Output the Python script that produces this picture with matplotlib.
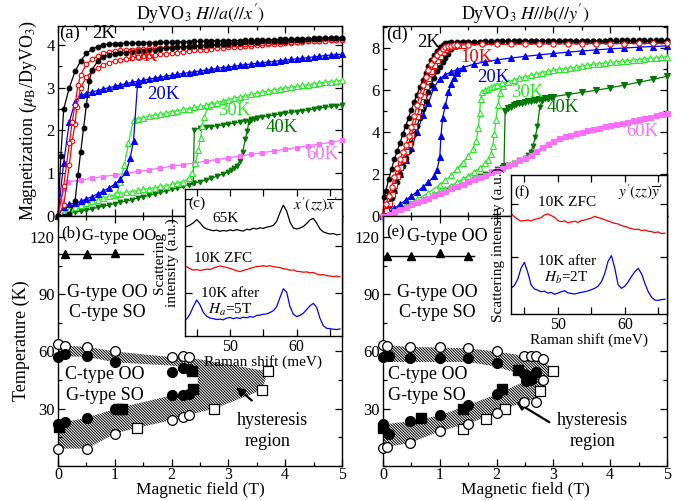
import numpy as np
import matplotlib.pyplot as plt
from matplotlib.ticker import MultipleLocator, NullFormatter
from matplotlib.patches import Polygon

plt.rcParams['font.family'] = ['Liberation Serif', 'DejaVu Serif']
plt.rcParams['mathtext.fontset'] = 'stix'
plt.rcParams['hatch.linewidth'] = 0.7
plt.rcParams['xtick.direction'] = 'in'
plt.rcParams['ytick.direction'] = 'in'
plt.rcParams['axes.linewidth'] = 1.0

# colours of the temperature series
c_2K = 'black'
c_10K = '#ff0000'
c_20K = '#0000ff'
c_30K = '#22ee22'
c_40K = '#007800'
c_60K = '#ff6eff'

# field grids (T) used by the magnetometer sweeps
grid_a = [round(1.0 + 0.1 * i, 1) for i in range(41)]       # 1.0 ... 5.0
grid_a14 = [round(1.4 + 0.1 * i, 1) for i in range(37)]     # 1.4 ... 5.0

# ---------------- panel (a): H // a ----------------
a2_up_H = [0, 0.1, 0.2, 0.3, 0.35, 0.4, 0.45, 0.5, 0.55, 0.6, 0.7, 0.8, 0.9] + grid_a
a2_up_M = [0, 0.0, 0.05, 0.35, 0.95, 1.5, 2.05, 2.6, 3.15, 3.42, 3.62, 3.72, 3.76,
           3.78, 3.80, 3.82, 3.83, 3.85, 3.86, 3.88, 3.89, 3.91, 3.92,
           3.93, 3.94, 3.95, 3.96, 3.97, 3.98, 3.99, 4.00, 4.01, 4.02,
           4.03, 4.04, 4.05, 4.055, 4.06, 4.07, 4.08, 4.085, 4.09, 4.10,
           4.10, 4.11, 4.12, 4.12, 4.13, 4.14, 4.14, 4.15, 4.15, 4.16, 4.17]
a2_dn_H = [0, 0.05, 0.1, 0.2, 0.3, 0.4, 0.5, 0.6, 0.7, 0.8, 0.9] + grid_a
a2_dn_M = [0, 1.4, 2.5, 3.0, 3.38, 3.62, 3.8, 3.9, 3.96, 4.0, 4.02,
           4.03, 4.03, 4.04, 4.04, 4.04, 4.05, 4.05, 4.05, 4.06, 4.06,
           4.06, 4.07, 4.07, 4.07, 4.08, 4.08, 4.08, 4.09, 4.09, 4.09,
           4.10, 4.10, 4.10, 4.11, 4.11, 4.11, 4.12, 4.12, 4.12, 4.13,
           4.13, 4.13, 4.14, 4.14, 4.14, 4.15, 4.15, 4.16, 4.16, 4.16, 4.17]

a10_dn_H = [0, 0.1, 0.2, 0.25, 0.3, 0.35, 0.4, 0.5, 0.6, 0.7, 0.8, 0.9] + grid_a
a10_dn_M = [0, 0.7, 1.7, 2.2, 2.6, 3.05, 3.3, 3.55, 3.66, 3.74, 3.8, 3.83,
            3.86, 3.87, 3.88, 3.89, 3.90, 3.91, 3.92, 3.92, 3.93, 3.94,
            3.95, 3.955, 3.96, 3.965, 3.97, 3.975, 3.98, 3.985, 3.99, 4.0,
            4.0, 4.01, 4.015, 4.02, 4.03, 4.035, 4.04, 4.05, 4.055, 4.06,
            4.065, 4.07, 4.075, 4.08, 4.085, 4.09, 4.095, 4.10, 4.11, 4.115, 4.12]
a10_up_H = [0, 0.1, 0.2, 0.25, 0.3, 0.33, 0.4, 0.5, 0.6, 0.7, 0.8, 0.9] + grid_a
a10_up_M = [0, 0.25, 1.2, 1.75, 2.15, 2.55, 3.0, 3.25, 3.38, 3.46, 3.53, 3.58,
            3.62, 3.64, 3.67, 3.69, 3.71, 3.73, 3.75, 3.76, 3.78, 3.79,
            3.81, 3.82, 3.84, 3.85, 3.87, 3.88, 3.89, 3.90, 3.92, 3.93,
            3.94, 3.95, 3.96, 3.97, 3.98, 3.99, 4.00, 4.01, 4.02, 4.03,
            4.04, 4.05, 4.06, 4.07, 4.08, 4.08, 4.09, 4.10, 4.11, 4.11, 4.12]

a20_dn_H = [0, 0.1, 0.2, 0.3, 0.4, 0.5, 0.6, 0.7, 0.8, 0.9] + grid_a
a20_dn_M = [0, 1.25, 2.2, 2.67, 2.82, 2.86, 2.9, 2.93, 2.97, 3.0,
            3.03, 3.06, 3.1, 3.12, 3.15, 3.17, 3.2, 3.22, 3.24, 3.27,
            3.29, 3.31, 3.33, 3.35, 3.37, 3.39, 3.41, 3.43, 3.45, 3.47,
            3.48, 3.50, 3.52, 3.54, 3.55, 3.57, 3.58, 3.60, 3.61, 3.63,
            3.64, 3.66, 3.67, 3.69, 3.70, 3.72, 3.73, 3.75, 3.76, 3.77, 3.78]
a20_up_H = [0, 0.1, 0.2, 0.3, 0.4, 0.5, 0.6, 0.7, 0.8, 0.9, 1.0, 1.1, 1.2, 1.27, 1.33, 1.4]
a20_up_M = [0, 0.22, 0.27, 0.3, 0.34, 0.4, 0.45, 0.52, 0.58, 0.66, 0.74, 0.86, 1.02, 1.35, 1.76, 3.08]

a30_dn_H = [1.04, 1.1, 1.17, 1.24, 1.33] + grid_a14
a30_dn_M = [0.53, 0.8, 1.2, 1.7, 2.25,
            2.27, 2.30, 2.33, 2.36, 2.38, 2.41, 2.44, 2.46, 2.49, 2.51,
            2.54, 2.56, 2.59, 2.62, 2.65, 2.69, 2.72, 2.75, 2.78, 2.81,
            2.84, 2.87, 2.90, 2.92, 2.95, 2.97, 2.99, 3.01, 3.03, 3.05,
            3.07, 3.09, 3.11, 3.13, 3.14, 3.16, 3.17]
a30_up_H = [0, 0.1, 0.2, 0.3, 0.4, 0.5, 0.6, 0.7, 0.8, 0.9, 1.0, 1.1, 1.2, 1.3, 1.4, 1.5,
            1.6, 1.7, 1.8, 1.9, 2.0, 2.1, 2.2, 2.3, 2.36, 2.42, 2.47, 2.51, 2.54, 2.57, 2.65, 2.71]
a30_up_M = [0, 0.08, 0.14, 0.2, 0.25, 0.3, 0.34, 0.38, 0.42, 0.46, 0.49, 0.52, 0.55, 0.57, 0.6, 0.62,
            0.64, 0.66, 0.69, 0.71, 0.74, 0.77, 0.8, 0.88, 1.0, 1.23, 1.55, 1.82, 2.1, 2.32, 2.56, 2.62]

a40_up_H = [round(0.1 * i, 1) for i in range(31)] + [3.05, 3.1, 3.15, 3.2, 3.25, 3.3, 3.33, 3.36, 3.4, 3.45, 3.5]
a40_up_M = [0, 0.03, 0.06, 0.09, 0.11, 0.14, 0.17, 0.2, 0.23, 0.26,
            0.29, 0.32, 0.35, 0.38, 0.42, 0.45, 0.48, 0.52, 0.55, 0.58,
            0.62, 0.65, 0.69, 0.73, 0.77, 0.8, 0.84, 0.88, 0.93, 0.98, 1.03,
            1.07, 1.12, 1.18, 1.28, 1.5, 1.8, 1.98, 2.2, 2.25, 2.27, 2.29]
a40_dn_H = [2.38] + [round(2.4 + 0.1 * i, 1) for i in range(27)]
a40_dn_M = [0.78, 2.02, 2.05, 2.07, 2.09, 2.11, 2.13, 2.15, 2.17, 2.2, 2.23,
            2.26, 2.29, 2.32, 2.34, 2.36, 2.38, 2.4, 2.42, 2.44, 2.46,
            2.48, 2.5, 2.52, 2.54, 2.56, 2.58, 2.6]

a60_H = [0, 0.05, 0.1, 0.18] + [round(0.4 + 0.2 * i, 1) for i in range(24)]
a60_M = [0, 0.35, 0.62, 0.8, 0.84, 0.88, 0.92, 0.96, 1.0, 1.04, 1.08, 1.12, 1.16, 1.2,
         1.24, 1.28, 1.32, 1.36, 1.40, 1.44, 1.48, 1.52, 1.56, 1.60, 1.64, 1.68, 1.72, 1.77]

# ---------------- panel (d): H // b ----------------
d2_dn_H = [0, 0.02, 0.05, 0.1, 0.15, 0.2, 0.25, 0.3, 0.35, 0.4, 0.45, 0.5, 0.55, 0.6, 0.65,
           0.7, 0.75, 0.8, 0.85, 0.9, 0.95, 1.0, 1.05, 1.1, 1.15, 1.2] + [round(1.3 + 0.1 * i, 1) for i in range(38)]
d2_dn_M = [0, 0.9, 1.2, 1.75, 2.25, 2.7, 3.1, 3.5, 3.9, 4.3, 4.7, 5.08, 5.45, 5.8, 6.15,
           6.5, 6.85, 7.15, 7.45, 7.7, 7.9, 8.05, 8.15, 8.25, 8.28, 8.3,
           8.31, 8.32, 8.32, 8.33, 8.33, 8.34, 8.34, 8.34, 8.35, 8.35,
           8.35, 8.35, 8.36, 8.36, 8.36, 8.36, 8.36, 8.36, 8.37, 8.37,
           8.37, 8.37, 8.37, 8.37, 8.37, 8.37, 8.37, 8.38, 8.38, 8.38,
           8.38, 8.38, 8.38, 8.38, 8.38, 8.38, 8.38, 8.38]
d2_up_H = [round(0.05 * i, 2) for i in range(29)] + [round(1.5 + 0.1 * i, 1) for i in range(36)]
d2_up_M = [0, 0.25, 0.5, 0.85, 1.2, 1.6, 2.0, 2.38, 2.75, 3.12,
           3.5, 3.9, 4.3, 4.7, 5.1, 5.5, 5.9, 6.25, 6.6, 6.9,
           7.1, 7.35, 7.55, 7.75, 7.95, 8.1, 8.2, 8.26, 8.3,
           8.31, 8.32, 8.32, 8.33, 8.33, 8.33, 8.34, 8.34, 8.34, 8.34,
           8.35, 8.35, 8.35, 8.35, 8.35, 8.35, 8.36, 8.36, 8.36, 8.36,
           8.36, 8.36, 8.36, 8.36, 8.36, 8.37, 8.37, 8.37, 8.37, 8.37,
           8.37, 8.37, 8.37, 8.37, 8.37, 8.37]

d10_dn_H = [round(0.05 * i, 2) for i in range(27)] + [1.5, 1.75, 2.0, 2.25, 2.5, 2.75, 3.0, 3.25,
                                                     3.5, 3.75, 4.0, 4.25, 4.5, 4.75, 5.0]
d10_dn_M = [0, 0.55, 0.95, 1.4, 1.85, 2.3, 2.7, 3.05, 3.4, 3.8,
            4.25, 4.75, 5.3, 5.8, 6.25, 6.65, 6.95, 7.25, 7.5, 7.7,
            7.85, 7.97, 8.05, 8.1, 8.13, 8.15, 8.16,
            8.18, 8.19, 8.2, 8.2, 8.21, 8.21, 8.22, 8.22, 8.22, 8.23, 8.23, 8.23, 8.24, 8.24, 8.24]
d10_up_H = [round(0.05 * i, 2) for i in range(29)]
d10_up_M = [0, 0.3, 0.6, 1.05, 1.5, 1.9, 2.35, 2.7, 3.1, 3.45,
            3.85, 4.3, 4.75, 5.25, 5.75, 6.2, 6.6, 6.9, 7.2, 7.45,
            7.65, 7.82, 7.95, 8.05, 8.1, 8.13, 8.15, 8.16, 8.17]

d20_dn_H = [round(0.1 * i, 1) for i in range(15)] + [1.6, 1.8, 2.0, 2.25, 2.5, 2.75, 3.0, 3.25,
                                                   3.5, 3.75, 4.0, 4.25, 4.5, 4.75, 5.0]
d20_dn_M = [0, 0.6, 1.25, 2.0, 2.65, 3.26, 4.0, 4.8, 5.4, 6.15, 6.55, 6.75, 6.88, 6.98, 7.08,
            7.25, 7.36, 7.45, 7.54, 7.62, 7.69, 7.76, 7.82, 7.88, 7.93, 7.98, 8.02, 8.06, 8.09, 8.12]
d20_up_H = [0, 0.1, 0.2, 0.3, 0.4, 0.5, 0.6, 0.7, 0.8, 0.9, 0.95, 1.0, 1.02, 1.05, 1.1, 1.15, 1.2, 1.25, 1.3, 1.4]
d20_up_M = [0, 0.18, 0.36, 0.56, 0.76, 0.96, 1.16, 1.38, 1.62, 1.9, 2.2, 2.8, 3.8, 4.7, 5.3, 5.9, 6.3, 6.6, 6.85, 7.05]

d30_dn_H = [0, 0.2, 0.4, 0.6, 0.8, 1.0, 1.1, 1.2, 1.3, 1.4, 1.5, 1.58, 1.64, 1.68, 1.7, 1.72,
            1.75, 1.8, 1.85, 1.9, 1.95] + [round(2.0 + 0.1 * i, 1) for i in range(31)]
d30_dn_M = [0, 0.25, 0.5, 0.8, 1.1, 1.5, 1.7, 1.95, 2.25, 2.55, 2.85, 3.2, 3.6, 4.2, 4.9, 5.6,
            5.9, 6.02, 6.08, 6.14, 6.2,
            6.25, 6.33, 6.41, 6.49, 6.57, 6.64, 6.71, 6.78, 6.85, 6.91,
            6.96, 7.0, 7.04, 7.08, 7.12, 7.16, 7.2, 7.24, 7.27, 7.3,
            7.33, 7.36, 7.39, 7.42, 7.45, 7.47, 7.5, 7.53, 7.55, 7.58, 7.6]
d30_up_H = [round(0.1 * i, 1) for i in range(19)] + [1.85, 1.9, 1.93, 1.96, 1.99, 2.02, 2.06, 2.12]
d30_up_M = [0, 0.1, 0.2, 0.32, 0.43, 0.55, 0.67, 0.8, 0.92, 1.05,
            1.18, 1.31, 1.45, 1.6, 1.76, 1.93, 2.1, 2.3, 2.52,
            2.68, 2.95, 3.35, 3.9, 4.6, 5.3, 5.85, 6.2]

d40_up_H = [round(0.1 * i, 1) for i in range(26)] + [2.55, 2.6, 2.64, 2.68, 2.72, 2.76, 2.8, 2.9]
d40_up_M = [0, 0.11, 0.22, 0.33, 0.45, 0.56, 0.67, 0.78, 0.9, 1.01,
            1.12, 1.23, 1.34, 1.45, 1.56, 1.67, 1.78, 1.89, 2.0, 2.11,
            2.22, 2.32, 2.43, 2.54, 2.65, 2.78,
            2.9, 3.05, 3.35, 3.75, 4.3, 5.2, 5.5, 5.58]
d40_dn_H = [2.13, 2.15, 2.2, 2.25, 2.3, 2.35, 2.4, 2.45, 2.5, 2.55, 2.6, 2.65, 2.7, 2.75,
            2.8, 2.85, 2.9, 2.95, 3.0, 3.25, 3.5, 3.75, 4.0, 4.25, 4.5, 4.75, 5.0]
d40_dn_M = [2.4, 5.0, 5.15, 5.22, 5.28, 5.33, 5.38, 5.41, 5.44, 5.47, 5.5, 5.53, 5.55, 5.57,
            5.6, 5.62, 5.65, 5.67, 5.7, 5.8, 5.9, 6.0, 6.12, 6.25, 6.38, 6.52, 6.67]

d60_H = [round(0.1 * i, 1) for i in range(51)]
d60_M = [0, 0.11, 0.22, 0.33, 0.44, 0.55, 0.66, 0.77, 0.88, 0.99,
         1.1, 1.21, 1.32, 1.43, 1.54, 1.65, 1.76, 1.87, 1.98, 2.09,
         2.2, 2.31, 2.42, 2.53, 2.65, 2.78, 2.93, 3.1, 3.3, 3.46,
         3.6, 3.71, 3.8, 3.88, 3.96, 4.03, 4.1, 4.16, 4.22, 4.28,
         4.33, 4.39, 4.44, 4.5, 4.56, 4.62, 4.68, 4.74, 4.8, 4.86, 4.92]

# ---------------- phase diagrams ----------------
b_oo_H = [0, 1.5]
b_oo_T = [111, 111]
b_tri_H = [0.12, 0.51, 1.0]
b_tri_T = [111, 111, 111.5]
b_ocirc_H = [0, 0.12, 0.51, 1.0, 2.01, 2.2, 2.3, 0, 0.51, 1.0, 2.0, 2.2, 2.3]
b_ocirc_T = [64, 63, 62.5, 60, 57, 57.4, 57, 9.1, 9.1, 17, 24, 25.6, 26.8]
b_fcirc_H = [0, 0.12, 0.51, 1.0, 2.0, 2.2, 2.3, 0, 0.12, 0.51, 1.0, 2.0, 2.2, 2.3]
b_fcirc_T = [57, 58.7, 57.8, 54.3, 49.1, 51.4, 50.9, 22.1, 23, 25.3, 30, 37, 37, 37.9]
b_fsq_H = [0.02, 1.05, 1.12, 2.36, 2.38]
b_fsq_T = [20.4, 30, 30, 50, 40.4]
b_osq_H = [3.69, 3.6, 2.75, 1.39]
b_osq_T = [49.6, 39.9, 30, 20]
b_hyst_H = [0, 0.12, 0.51, 1.0, 2.01, 2.3, 3.69, 3.6, 2.75, 2.3, 2.0, 1.39, 1.0, 0.51, 0,
            0, 0.12, 0.51, 1.0, 2.0, 2.3, 2.46, 2.46, 2.3, 2.0, 1.0, 0.51, 0]
b_hyst_T = [64, 63, 62.5, 60, 57, 56.9, 49.6, 39.9, 30, 26.8, 24, 20, 17, 9.1, 9.1,
            22.1, 23, 25.3, 30, 37, 37.9, 39.5, 50.5, 51.5, 52.6, 54.3, 57.2, 57.5]

e_oo_H = [0, 1.6]
e_oo_T = [110, 110]
e_tri_H = [0.07, 0.5, 1.0, 1.5]
e_tri_T = [110, 110, 111.5, 110]
e_ocirc_H = [0, 0.07, 0.48, 1.0, 1.5, 2.0, 2.49, 2.61, 2.7, 2.82, 2.82, 0, 0.07, 0.48, 1.0, 1.5, 2.0, 2.49, 2.7]
e_ocirc_T = [63.5, 63, 62.4, 62.1, 61.6, 60, 57.7, 57.7, 57.7, 56, 45.1, 9.2, 10, 12.1, 18.2, 22.2, 27.7, 33.5, 33.5]
e_fcirc_H = [0, 0.1, 0.48, 1.0, 1.5, 2.0, 2.49, 2.7, 2.52, 0, 0.1, 0.48, 1.0, 1.5, 2.0, 2.61, 2.52]
e_fcirc_T = [57.2, 57.7, 56.5, 56.5, 56.5, 53.8, 48.2, 49, 44.7, 21.8, 17, 23.4, 26.5, 32, 37.5, 45, 47.9]
e_fsq_H = [0, 0.67, 1.41, 2.1, 2.37, 2.61]
e_fsq_T = [20.1, 25.3, 30, 40.4, 50.3, 46.8]
e_osq_H = [3.0, 2.76, 2.14, 1.81, 1.4]
e_osq_T = [49.6, 39.5, 30, 24.8, 19.6]
e_hyst_H = [0, 0.48, 1.0, 1.5, 2.0, 2.49, 2.82, 3.0, 2.82, 2.72, 2.49, 2.14, 2.0, 1.5, 1.0, 0.48, 0.07, 0,
            0, 0.48, 1.0, 1.5, 2.0, 2.52, 2.61, 2.49, 2.0, 1.5, 1.0, 0.48, 0]
e_hyst_T = [63.5, 62.4, 62.1, 61.6, 60, 57.7, 56, 49.6, 45.1, 36, 33.5, 30, 27.7, 22.2, 18.2, 12.1, 10, 9.2,
            21.8, 23.4, 26.5, 32, 37.5, 44.7, 46.5, 47.5, 52, 54.5, 54.5, 54.5, 54.5]

# ---------------- Raman spectra (insets) ----------------
raman_c = np.arange(43.5, 66.51, 0.5)
c_65K = [0.745, 0.755, 0.770, 0.792, 0.770, 0.742, 0.728, 0.722, 0.716, 0.720, 0.712, 0.718,
         0.714, 0.722, 0.716, 0.724, 0.718, 0.714, 0.726, 0.722, 0.733, 0.728, 0.736, 0.732,
         0.740, 0.745, 0.752, 0.780, 0.840, 0.890, 0.850, 0.775, 0.735, 0.728, 0.734, 0.745,
         0.765, 0.790, 0.800, 0.768, 0.728, 0.708, 0.700, 0.694, 0.697, 0.688, 0.692]
c_10K_zfc = [0.472, 0.458, 0.448, 0.452, 0.446, 0.450, 0.455, 0.452, 0.462, 0.470, 0.476, 0.472,
             0.466, 0.460, 0.452, 0.444, 0.438, 0.446, 0.452, 0.460, 0.466, 0.472, 0.474, 0.478,
             0.474, 0.478, 0.472, 0.468, 0.466, 0.458, 0.455, 0.448, 0.450, 0.440, 0.438, 0.434,
             0.436, 0.430, 0.432, 0.422, 0.416, 0.418, 0.410, 0.408, 0.404, 0.408, 0.402]
c_10K_5T = [0.115, 0.150, 0.200, 0.245, 0.212, 0.160, 0.135, 0.122, 0.118, 0.112, 0.115, 0.110,
            0.122, 0.126, 0.118, 0.124, 0.120, 0.128, 0.124, 0.132, 0.128, 0.140, 0.142, 0.148,
            0.150, 0.160, 0.172, 0.200, 0.262, 0.322, 0.298, 0.200, 0.148, 0.132, 0.140, 0.155,
            0.180, 0.206, 0.222, 0.195, 0.120, 0.070, 0.052, 0.050, 0.046, 0.044, 0.048]

raman_f = np.arange(43.0, 66.01, 0.5)
f_10K_zfc = [0.722, 0.700, 0.682, 0.668, 0.672, 0.676, 0.670, 0.680, 0.686, 0.694, 0.712, 0.720,
             0.708, 0.696, 0.672, 0.664, 0.670, 0.656, 0.662, 0.668, 0.658, 0.672, 0.676, 0.684,
             0.690, 0.702, 0.694, 0.688, 0.678, 0.670, 0.660, 0.652, 0.648, 0.636, 0.630, 0.622,
             0.614, 0.608, 0.610, 0.600, 0.604, 0.596, 0.592, 0.586, 0.590, 0.578, 0.582]
f_10K_2T = [0.185, 0.205, 0.250, 0.330, 0.372, 0.300, 0.210, 0.180, 0.172, 0.160, 0.165, 0.150,
            0.156, 0.142, 0.150, 0.160, 0.168, 0.152, 0.148, 0.144, 0.150, 0.156, 0.160, 0.166,
            0.175, 0.185, 0.200, 0.232, 0.290, 0.380, 0.420, 0.330, 0.210, 0.185, 0.200, 0.232,
            0.270, 0.305, 0.328, 0.290, 0.220, 0.160, 0.120, 0.100, 0.098, 0.104, 0.106]

# ---------------- figure ----------------
fig = plt.figure(figsize=(6.89, 5.0), dpi=100)
W, Hpx = 689.0, 500.0
ax_a = fig.add_axes([58 / W, 1 - 216 / Hpx, 284 / W, 190 / Hpx])
ax_b = fig.add_axes([58 / W, 1 - 466 / Hpx, 284 / W, 250 / Hpx])
ax_d = fig.add_axes([383 / W, 1 - 216 / Hpx, 284 / W, 190 / Hpx])
ax_e = fig.add_axes([383 / W, 1 - 466 / Hpx, 284 / W, 250 / Hpx])
ax_c = fig.add_axes([185 / W, 1 - 336 / Hpx, 157 / W, 147 / Hpx])
ax_f = fig.add_axes([511 / W, 1 - 314 / Hpx, 156 / W, 139 / Hpx])


def style(ax, xmaj, xmin, ymaj, ymin, size=12):
    ax.xaxis.set_major_locator(MultipleLocator(xmaj))
    ax.xaxis.set_minor_locator(MultipleLocator(xmin))
    ax.yaxis.set_major_locator(MultipleLocator(ymaj))
    ax.yaxis.set_minor_locator(MultipleLocator(ymin))
    ax.tick_params(which='both', top=True, right=True, labelsize=size, pad=2.5)
    ax.tick_params(axis='x', pad=1, labelsize=11.5)
    ax.tick_params(which='major', length=5, width=0.9)
    ax.tick_params(which='minor', length=3, width=0.9)


def curve(ax, H, M, color, marker, filled=True, ms=3.6, z=3):
    ax.plot(H, M, color=color, lw=0.9, marker=marker, ms=ms,
            mfc=color if filled else 'white', mec=color, mew=0.8,
            zorder=z, clip_on=False)


# panel (a)
curve(ax_a, a40_up_H, a40_up_M, c_40K, 'v', ms=3.4)
curve(ax_a, a40_dn_H, a40_dn_M, c_40K, 'v', ms=3.4)
curve(ax_a, a60_H, a60_M, c_60K, 's', ms=3.4)
curve(ax_a, a30_up_H, a30_up_M, c_30K, '^', filled=False, ms=4)
curve(ax_a, a30_dn_H, a30_dn_M, c_30K, '^', filled=False, ms=4)
curve(ax_a, a20_up_H, a20_up_M, c_20K, '^', ms=4)
curve(ax_a, a20_dn_H, a20_dn_M, c_20K, '^', ms=4)
curve(ax_a, a10_up_H, a10_up_M, c_10K, 'o', filled=False, ms=3.3)
curve(ax_a, a10_dn_H, a10_dn_M, c_10K, 'o', filled=False, ms=3.3)
curve(ax_a, a2_up_H, a2_up_M, c_2K, 'o', ms=3.4)
curve(ax_a, a2_dn_H, a2_dn_M, c_2K, 'o', ms=3.4)
ax_a.set_xlim(0, 5)
ax_a.set_ylim(0, 4.44)
style(ax_a, 1, 0.5, 1, 0.5)
ax_a.tick_params(labelbottom=False)
ax_a.set_ylabel(r'Magnetization ($\mu_\mathrm{B}$/DyVO$_3$)', fontsize=13, labelpad=5)
ax_a.set_title(r"DyVO$_3$ $H//a(//x')$", fontsize=13, pad=4)
tk = dict(fontsize=13.5, ha='center', va='center', zorder=6)
ax_a.text(0.21, 4.26, '(a)', color='k', **tk)
ax_a.text(0.8, 4.26, '2K', color=c_2K, **tk)
ax_a.text(1.47, 3.72, '10K', color=c_10K, **tk)
ax_a.text(1.85, 2.85, '20K', color=c_20K, **tk)
ax_a.text(3.1, 2.46, '30K', color=c_30K, **tk)
ax_a.text(3.94, 2.06, '40K', color=c_40K, **tk)
ax_a.text(4.66, 1.43, '60K', color=c_60K, **tk)

# panel (d)
curve(ax_d, d40_up_H, d40_up_M, c_40K, 'v', ms=3.4)
curve(ax_d, d40_dn_H, d40_dn_M, c_40K, 'v', ms=3.8)
curve(ax_d, d60_H, d60_M, c_60K, 's', ms=3.6, z=4)
curve(ax_d, d30_up_H, d30_up_M, c_30K, '^', filled=False, ms=4)
curve(ax_d, d30_dn_H, d30_dn_M, c_30K, '^', filled=False, ms=4)
curve(ax_d, d20_up_H, d20_up_M, c_20K, '^', ms=4)
curve(ax_d, d20_dn_H, d20_dn_M, c_20K, '^', ms=4)
curve(ax_d, d2_up_H, d2_up_M, c_2K, 'o', ms=3.4)
curve(ax_d, d2_dn_H, d2_dn_M, c_2K, 'o', ms=3.4)
curve(ax_d, d10_up_H, d10_up_M, c_10K, 's', filled=False, ms=3.6)
curve(ax_d, d10_dn_H, d10_dn_M, c_10K, 'o', filled=False, ms=3.8)
ax_d.set_xlim(0, 5)
ax_d.set_ylim(0, 9.07)
style(ax_d, 1, 0.5, 2, 1)
ax_d.tick_params(labelbottom=False)
ax_d.set_title(r"DyVO$_3$ $H//b(//y')$", fontsize=13, pad=4)
ax_d.text(0.25, 8.68, '(d)', color='k', **tk)
ax_d.text(0.81, 8.27, '2K', color=c_2K, **tk)
ax_d.text(1.65, 7.59, '10K', color=c_10K, **tk)
ax_d.text(1.94, 6.59, '20K', color=c_20K, **tk)
ax_d.text(2.54, 5.88, '30K', color=c_30K, **tk)
ax_d.text(3.17, 5.2, '40K', color=c_40K, **tk)
ax_d.text(4.56, 4.03, '60K', color=c_60K, **tk)


# phase diagrams
def phase(ax, d):
    ax.add_patch(Polygon(list(zip(d['hyst_H'], d['hyst_T'])), closed=True, facecolor='white',
                         edgecolor='black', hatch='\\' * 12, lw=0, zorder=1))
    ax.plot(d['oo_H'], d['oo_T'], color='k', lw=1.0, zorder=2)
    ax.plot(d['tri_H'], d['tri_T'], ls='none', marker='^', ms=6, color='k', zorder=3)
    ax.plot(d['osq_H'], d['osq_T'], ls='none', marker='s', ms=6.5, mfc='white', mec='k', mew=0.9,
            zorder=3, clip_on=False)
    ax.plot(d['fsq_H'], d['fsq_T'], ls='none', marker='s', ms=6.5, color='k', zorder=4, clip_on=False)
    ax.plot(d['ocirc_H'], d['ocirc_T'], ls='none', marker='o', ms=7, mfc='white', mec='k', mew=0.9,
            zorder=4, clip_on=False)
    ax.plot(d['fcirc_H'], d['fcirc_T'], ls='none', marker='o', ms=7, color='k', zorder=5, clip_on=False)
    ax.set_xlim(0, 5)
    ax.set_ylim(0, 131)
    style(ax, 1, 0.5, 30, 15)
    ax.set_yticks([30, 60, 90, 120])
    ax.set_xlabel('Magnetic field (T)', fontsize=12.5)
    ax.xaxis.set_label_coords(0.5, -0.064)


phase(ax_b, dict(hyst_H=b_hyst_H, hyst_T=b_hyst_T, oo_H=b_oo_H, oo_T=b_oo_T, tri_H=b_tri_H, tri_T=b_tri_T,
                 osq_H=b_osq_H, osq_T=b_osq_T, fsq_H=b_fsq_H, fsq_T=b_fsq_T,
                 ocirc_H=b_ocirc_H, ocirc_T=b_ocirc_T, fcirc_H=b_fcirc_H, fcirc_T=b_fcirc_T))
phase(ax_e, dict(hyst_H=e_hyst_H, hyst_T=e_hyst_T, oo_H=e_oo_H, oo_T=e_oo_T, tri_H=e_tri_H, tri_T=e_tri_T,
                 osq_H=e_osq_H, osq_T=e_osq_T, fsq_H=e_fsq_H, fsq_T=e_fsq_T,
                 ocirc_H=e_ocirc_H, ocirc_T=e_ocirc_T, fcirc_H=e_fcirc_H, fcirc_T=e_fcirc_T))
ax_b.set_ylabel('Temperature (K)', fontsize=13, labelpad=0)

tp = dict(fontsize=13, ha='center', va='center', color='k', zorder=6)
tl = dict(fontsize=12, ha='left', va='center', color='k', zorder=6)
ax_b.text(0.05, 122, '(b)', fontsize=12, ha='left', va='center')
ax_b.text(0.43, 120.5, 'G-type OO', **tl)
ax_b.text(0.86, 90.8, 'G-type OO', **tp)
ax_b.text(0.86, 80.4, 'C-type SO', **tp)
ax_b.text(0.83, 47.9, 'C-type OO', **tp)
ax_b.text(0.83, 36.9, 'G-type SO', **tp)
ax_b.text(3.77, 23.9, 'hysteresis', **tp)
ax_b.text(3.69, 12.6, 'region', **tp)
ax_b.annotate('', xy=(3.1, 42.2), xytext=(3.45, 33.4),
              arrowprops=dict(arrowstyle='-|>', color='k', lw=1.6, mutation_scale=12))

ax_e.text(0.05, 122.5, '(e)', fontsize=12, ha='left', va='center')
ax_e.text(0.42, 120.5, 'G-type OO', fontsize=13, ha='left', va='center')
ax_e.text(0.96, 90.8, 'G-type OO', **tp)
ax_e.text(0.96, 80.4, 'C-type SO', **tp)
ax_e.text(0.78, 47.9, 'C-type OO', **tp)
ax_e.text(0.78, 36.9, 'G-type SO', **tp)
ax_e.text(3.69, 23.9, 'hysteresis', **tp)
ax_e.text(3.69, 12.6, 'region', **tp)
ax_e.annotate('', xy=(2.3, 34.3), xytext=(2.97, 22.2),
              arrowprops=dict(arrowstyle='-|>', color='k', lw=1.6, mutation_scale=12))


# insets
def inset(ax, xlo, xhi, yt):
    ax.set_facecolor('white')
    ax.set_xlim(xlo, xhi)
    ax.set_ylim(0, 1)
    ax.xaxis.set_major_locator(MultipleLocator(10))
    ax.xaxis.set_minor_locator(MultipleLocator(5))
    ax.set_yticks(yt)
    ax.yaxis.set_major_formatter(NullFormatter())
    ax.tick_params(which='both', top=True, right=True, labelsize=11.5, pad=2)
    ax.tick_params(which='major', length=5, width=0.9)
    ax.tick_params(which='minor', length=5, width=0.9)
    ax.set_xlabel('Raman shift (meV)', fontsize=11, labelpad=0)


ax_c.plot(raman_c, c_65K, color='k', lw=0.9)
ax_c.plot(raman_c, c_10K_zfc, color=c_10K, lw=0.9)
ax_c.plot(raman_c, c_10K_5T, color=c_20K, lw=0.9)
inset(ax_c, 43.25, 66.8, [0.293, 0.612, 0.932])
ax_c.set_ylabel('Scattering\nintensity (a.u.)', fontsize=11, labelpad=2, linespacing=0.95)
ti = dict(fontsize=11, ha='center', va='center', color='k')
ax_c.text(45.0, 0.905, '(c)', **ti)
ax_c.text(49.3, 0.80, '65K', **ti)
ax_c.text(66.3, 0.895, r"$x'(zz)\overline{x}'$", fontsize=11, ha='right', va='center')
ax_c.text(49.0, 0.53, '10K ZFC', **ti)
ax_c.text(50.0, 0.29, '10K after', **ti)
ax_c.text(50.0, 0.175, r'$H_a$=5T', **ti)

ax_f.plot(raman_f, f_10K_zfc, color=c_10K, lw=0.9)
ax_f.plot(raman_f, f_10K_2T, color=c_20K, lw=0.9)
inset(ax_f, 43.0, 66.3, [0.412, 0.79])
ax_f.set_ylabel('Scattering intensity (a.u.)', fontsize=11, labelpad=2)
ax_f.text(44.6, 0.88, '(f)', **ti)
ax_f.text(51.3, 0.80, '10K ZFC', **ti)
ax_f.text(65.8, 0.88, r"$y'(zz)\overline{y}'$", fontsize=11, ha='right', va='center')
ax_f.text(51.3, 0.376, '10K after', **ti)
ax_f.text(51.3, 0.257, r'$H_b$=2T', **ti)

fig.savefig('out.png', dpi=100)
